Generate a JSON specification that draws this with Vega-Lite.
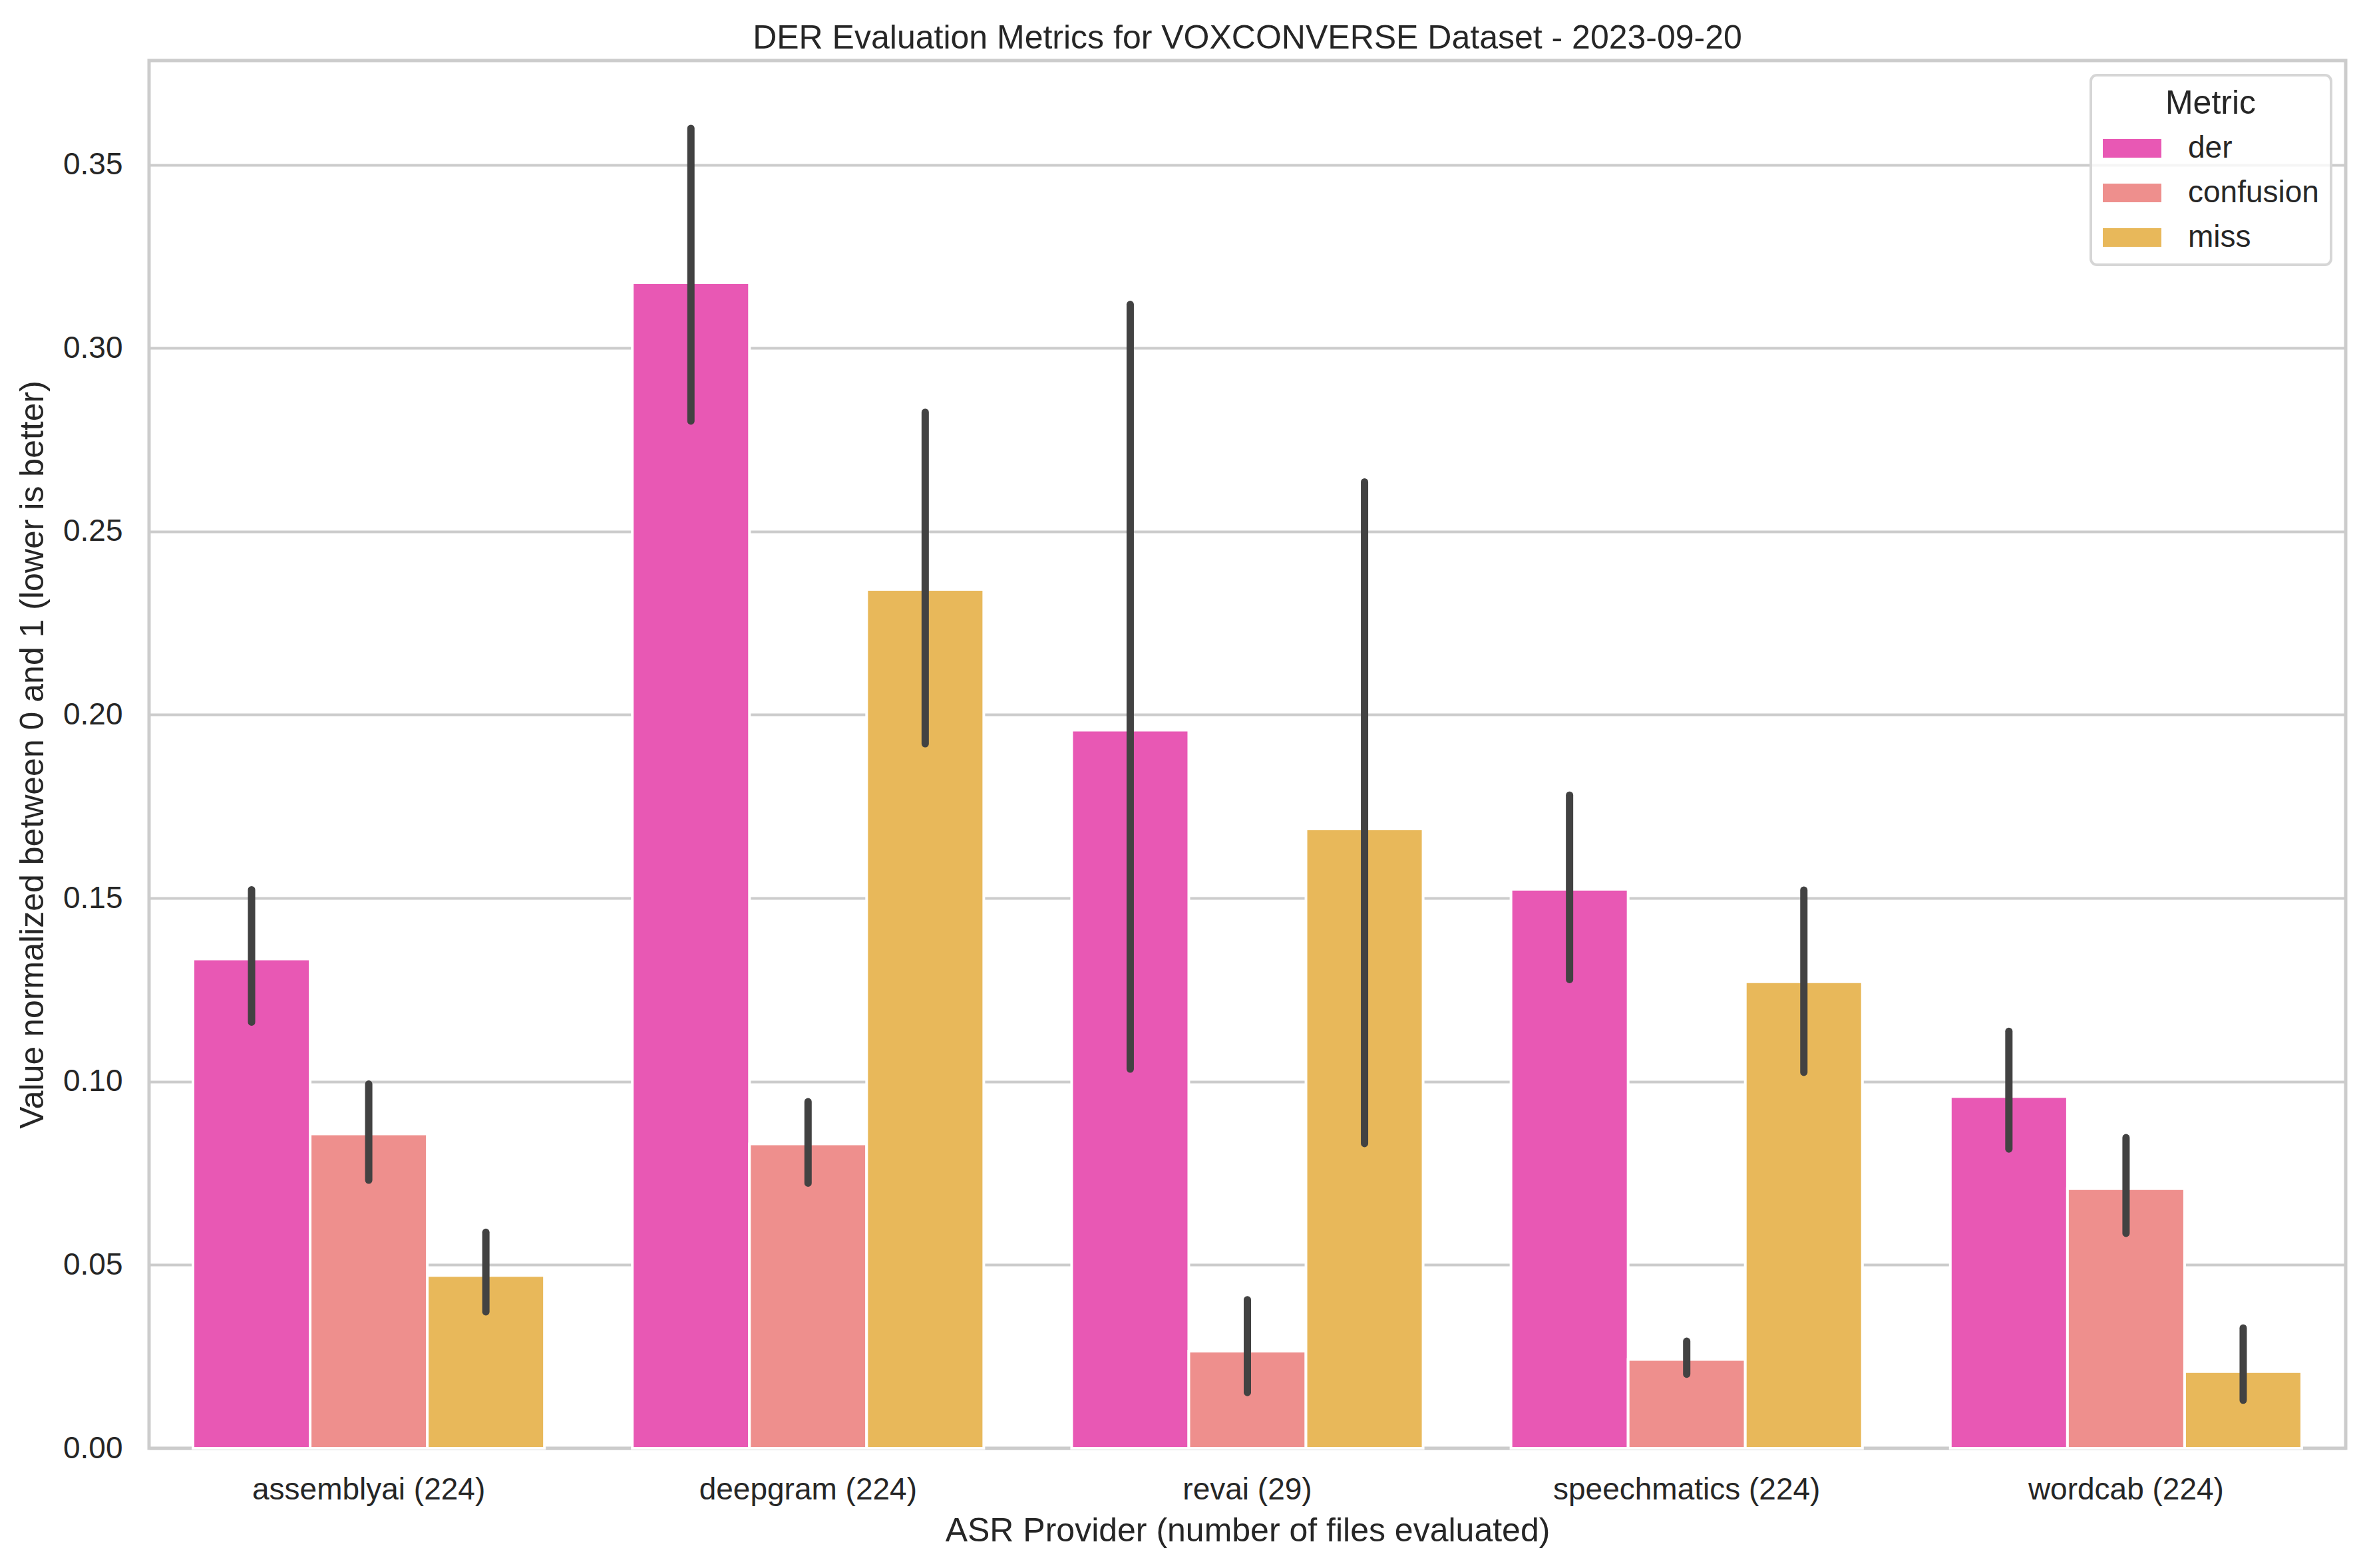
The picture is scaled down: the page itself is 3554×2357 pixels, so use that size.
{
  "$schema": "https://vega.github.io/schema/vega-lite/v6.json",
  "autosize": {"type": "none"},
  "padding": {"left": 224, "top": 91, "right": 29, "bottom": 180},
  "width": 3301,
  "height": 2086,
  "background": "white",
  "title": {
    "text": "DER Evaluation Metrics for VOXCONVERSE Dataset - 2023-09-20",
    "fontSize": 50,
    "font": "Liberation Sans",
    "fontWeight": "normal",
    "color": "#262626",
    "anchor": "middle",
    "offset": 8
  },
  "data": {
    "values": [
      {"provider": "assemblyai (224)", "metric": "der", "value": 0.1334, "lo": 0.1162, "hi": 0.1523},
      {"provider": "assemblyai (224)", "metric": "confusion", "value": 0.0857, "lo": 0.0731, "hi": 0.0993},
      {"provider": "assemblyai (224)", "metric": "miss", "value": 0.0471, "lo": 0.0372, "hi": 0.0589},
      {"provider": "deepgram (224)", "metric": "der", "value": 0.3178, "lo": 0.2801, "hi": 0.3599},
      {"provider": "deepgram (224)", "metric": "confusion", "value": 0.0830, "lo": 0.0723, "hi": 0.0945},
      {"provider": "deepgram (224)", "metric": "miss", "value": 0.2342, "lo": 0.1921, "hi": 0.2825},
      {"provider": "revai (29)", "metric": "der", "value": 0.1958, "lo": 0.1034, "hi": 0.3119},
      {"provider": "revai (29)", "metric": "confusion", "value": 0.0265, "lo": 0.0152, "hi": 0.0405},
      {"provider": "revai (29)", "metric": "miss", "value": 0.1689, "lo": 0.0831, "hi": 0.2635},
      {"provider": "speechmatics (224)", "metric": "der", "value": 0.1524, "lo": 0.1278, "hi": 0.1781},
      {"provider": "speechmatics (224)", "metric": "confusion", "value": 0.0242, "lo": 0.0202, "hi": 0.0292},
      {"provider": "speechmatics (224)", "metric": "miss", "value": 0.1272, "lo": 0.1025, "hi": 0.1522},
      {"provider": "wordcab (224)", "metric": "der", "value": 0.0959, "lo": 0.0816, "hi": 0.1137},
      {"provider": "wordcab (224)", "metric": "confusion", "value": 0.0708, "lo": 0.0586, "hi": 0.0847},
      {"provider": "wordcab (224)", "metric": "miss", "value": 0.0209, "lo": 0.0131, "hi": 0.0328}
    ]
  },
  "encoding": {
    "x": {
      "field": "provider",
      "type": "nominal",
      "sort": null,
      "scale": {"paddingInner": 0.2, "paddingOuter": 0.1},
      "axis": {
        "title": "ASR Provider (number of files evaluated)",
        "labelAngle": 0,
        "labelLimit": 0,
        "ticks": false,
        "domain": false,
        "grid": false,
        "labelPadding": 40,
        "titlePadding": 14
      }
    },
    "xOffset": {
      "field": "metric",
      "type": "nominal",
      "sort": ["der", "confusion", "miss"],
      "scale": {"paddingInner": 0, "paddingOuter": 0}
    }
  },
  "layer": [
    {
      "mark": {"type": "bar", "stroke": "white", "strokeWidth": 4},
      "encoding": {
        "y": {
          "field": "value",
          "type": "quantitative",
          "scale": {"domain": [0, 0.3784], "nice": false, "zero": true},
          "axis": {
            "title": "Value normalized between 0 and 1 (lower is better)",
            "values": [0, 0.05, 0.1, 0.15, 0.2, 0.25, 0.3, 0.35],
            "format": ".2f",
            "ticks": false,
            "domain": false,
            "grid": true,
            "labelPadding": 40,
            "titlePadding": 20
          }
        },
        "color": {
          "field": "metric",
          "type": "nominal",
          "sort": ["der", "confusion", "miss"],
          "scale": {"domain": ["der", "confusion", "miss"], "range": ["#E858B4", "#EE8F8D", "#E8B85A"]},
          "legend": {"title": "Metric"}
        }
      }
    },
    {
      "mark": {"type": "rule", "color": "#424242", "strokeWidth": 11, "strokeCap": "round"},
      "encoding": {
        "y": {"field": "lo", "type": "quantitative"},
        "y2": {"field": "hi"}
      }
    }
  ],
  "config": {
    "font": "Liberation Sans",
    "view": {"stroke": "#cccccc", "strokeWidth": 5},
    "axis": {
      "labelFontSize": 46,
      "titleFontSize": 50,
      "labelColor": "#262626",
      "titleColor": "#262626",
      "titleFontWeight": "normal",
      "labelFont": "Liberation Sans",
      "titleFont": "Liberation Sans",
      "gridColor": "#cccccc",
      "gridWidth": 4,
      "gridOpacity": 1
    },
    "legend": {
      "orient": "top-right",
      "offset": 22,
      "padding": 18,
      "fillColor": "rgba(255,255,255,0.8)",
      "strokeColor": "#d6d6d6",
      "strokeWidth": 4,
      "cornerRadius": 9,
      "titleFontSize": 50,
      "titleFontWeight": "normal",
      "titleColor": "#262626",
      "titleAnchor": "middle",
      "titleAlign": "center",
      "titlePadding": -2,
      "labelFontSize": 46,
      "labelColor": "#262626",
      "labelLimit": 0,
      "labelOffset": 40,
      "symbolType": "M-1,-0.318H1V0.318H-1Z",
      "symbolSize": 7744,
      "symbolStrokeWidth": 0,
      "symbolOpacity": 1,
      "rowPadding": -2
    }
  }
}
